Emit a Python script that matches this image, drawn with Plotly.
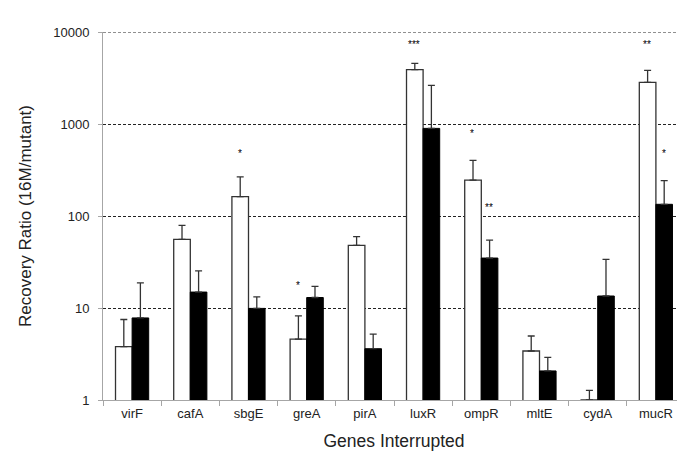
import math
import plotly.graph_objects as go

genes = ["virF", "cafA", "sbgE", "greA", "pirA", "luxR", "ompR", "mltE", "cydA", "mucR"]
white_vals = [3.8, 55.7, 162, 4.6, 47.9, 3890, 246, 3.41, 1.0, 2830]
white_err = [3.7, 23.3, 104, 3.6, 11.7, 670, 156, 1.55, 0.27, 1000]
black_vals = [7.8, 14.9, 9.9, 13.0, 3.61, 896, 34.9, 2.07, 13.5, 134]
black_err = [11.0, 10.4, 3.3, 4.2, 1.6, 1734, 19.9, 0.83, 20.2, 108]

# significance marks: (gene, series, text, value level)
star_genes = ["sbgE", "greA", "luxR", "ompR", "ompR", "mucR", "mucR"]
star_series = ["white", "white", "white", "white", "black", "white", "black"]
star_text = ["*", "*", "***", "*", "**", "**", "*"]
star_level = [509, 18.7, 7980, 851, 132, 7850, 509]

y_ticks = [1, 10, 100, 1000, 10000]
y_ticklabels = ["1", "10", "100", "1000", "10000"]

fig = go.Figure()
fig.add_trace(go.Bar(
    x=genes, y=white_vals, name="16M",
    marker=dict(color="white", line=dict(color="#333333", width=1.3)),
    error_y=dict(type="data", symmetric=False, array=white_err,
                 arrayminus=[0] * len(white_err),
                 color="#333333", thickness=1.3, width=3.5),
))
fig.add_trace(go.Bar(
    x=genes, y=black_vals, name="mutant",
    marker=dict(color="black", line=dict(color="black", width=1)),
    error_y=dict(type="data", symmetric=False, array=black_err,
                 arrayminus=[0] * len(black_err),
                 color="#333333", thickness=1.3, width=3.5),
))

for g, s, t, lv in zip(star_genes, star_series, star_text, star_level):
    fig.add_annotation(
        x=g, y=math.log10(lv), xref="x", yref="y", text=t,
        showarrow=False, xshift=(-9 if s == "white" else 8), yshift=-3,
        font=dict(family="Liberation Sans, Arial", size=10, color="black"),
    )

# top gridline at the upper range edge
fig.add_shape(type="line", xref="paper", yref="y", x0=0, x1=1,
              y0=y_ticks[-1], y1=y_ticks[-1],
              line=dict(color="#222222", width=1, dash="3px,2px"))

fig.update_layout(
    width=685, height=468,
    margin=dict(l=95, r=8, t=24, b=76),
    paper_bgcolor="white", plot_bgcolor="white",
    barmode="group", bargap=0.43, bargroupgap=0,
    showlegend=False,
    font=dict(family="Liberation Sans, Arial", size=13, color="#222222"),
)
fig.update_xaxes(
    showline=True, linecolor="#a6a6a6", linewidth=1,
    ticks="outside", tickson="boundaries", ticklen=5, tickcolor="#a6a6a6",
    tickfont=dict(size=13), ticklabelstandoff=1,
    title=dict(text="Genes Interrupted", font=dict(size=17.5), standoff=15),
    showgrid=False,
)
fig.update_yaxes(
    type="log", range=[0, 4],
    tickvals=y_ticks, ticktext=y_ticklabels,
    showline=True, linecolor="#a6a6a6", linewidth=1,
    ticks="outside", ticklen=4, tickcolor="#a6a6a6",
    tickfont=dict(size=13), ticklabelstandoff=6,
    showgrid=True, gridcolor="#222222", gridwidth=1, griddash="3px,2px",
    zeroline=False,
    title=dict(text="Recovery Ratio (16M/mutant)", font=dict(size=17), standoff=17),
)

fig.write_html("out.html")
